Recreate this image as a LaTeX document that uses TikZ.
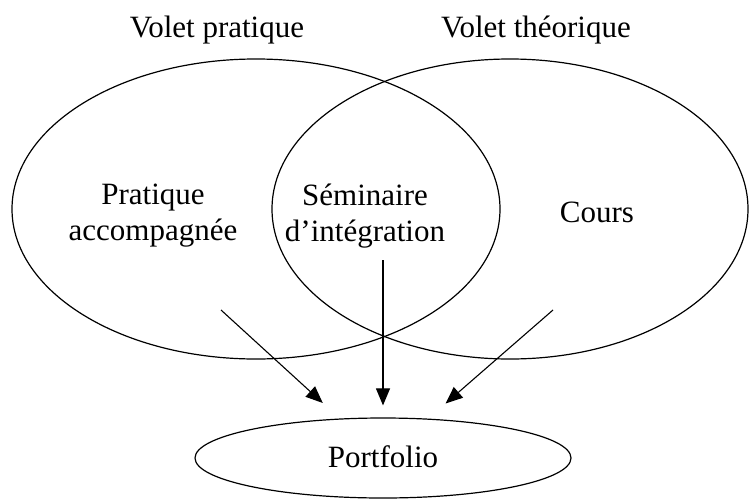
\documentclass[tikz,border=0pt]{standalone}
\usepackage{fontspec}
\setmainfont{Liberation Serif}
\usetikzlibrary{arrows.meta,shapes.geometric}
\definecolor{ink}{RGB}{0,0,0}
\tikzset{
  flow/.style={-{Triangle[length=17pt,width=14pt]},line width=1.1pt,draw=ink},
  volet/.style={ellipse,draw=ink,line width=1.2pt,inner sep=0pt},
  txt/.style={align=center,inner sep=0pt,font=\fontsize{31}{36}\selectfont}
}
\begin{document}
\begin{tikzpicture}[x=1pt,y=-1pt]
  \useasboundingbox (0,0) rectangle (749,498);
  % les deux volets
  \node[volet,minimum width=488pt,minimum height=300pt] (pratique) at (256,209) {};
  \node[volet,minimum width=476pt,minimum height=300pt] (theorique) at (510,209) {};
  \node[volet,minimum width=376pt,minimum height=80pt] (portfolio) at (383,458) {};
  \node[txt,anchor=base] (titreP) at (217,37) {Volet pratique};
  \node[txt,anchor=base] (titreT) at (536,37) {Volet théorique};
  \node[txt] (stage) at (153,216) {Pratique\\accompagnée};
  \node[txt] (semi) at (365,216) {Séminaire\\d’intégration};
  \node[txt,anchor=base] (cours) at (597,222) {Cours};
  \node[txt,anchor=base] at (383,467) {Portfolio};
  % vers le portfolio
  \coordinate (fromL) at (221,310);
  \coordinate (fromM) at (383,260);
  \coordinate (fromR) at (553,310);
  \draw[flow,shorten >=23pt] (fromL) -- (portfolio);
  \draw[flow,shorten >=12pt] (fromM) -- (portfolio);
  \draw[flow,shorten >=23pt] (fromR) -- (portfolio);
\end{tikzpicture}
\end{document}
